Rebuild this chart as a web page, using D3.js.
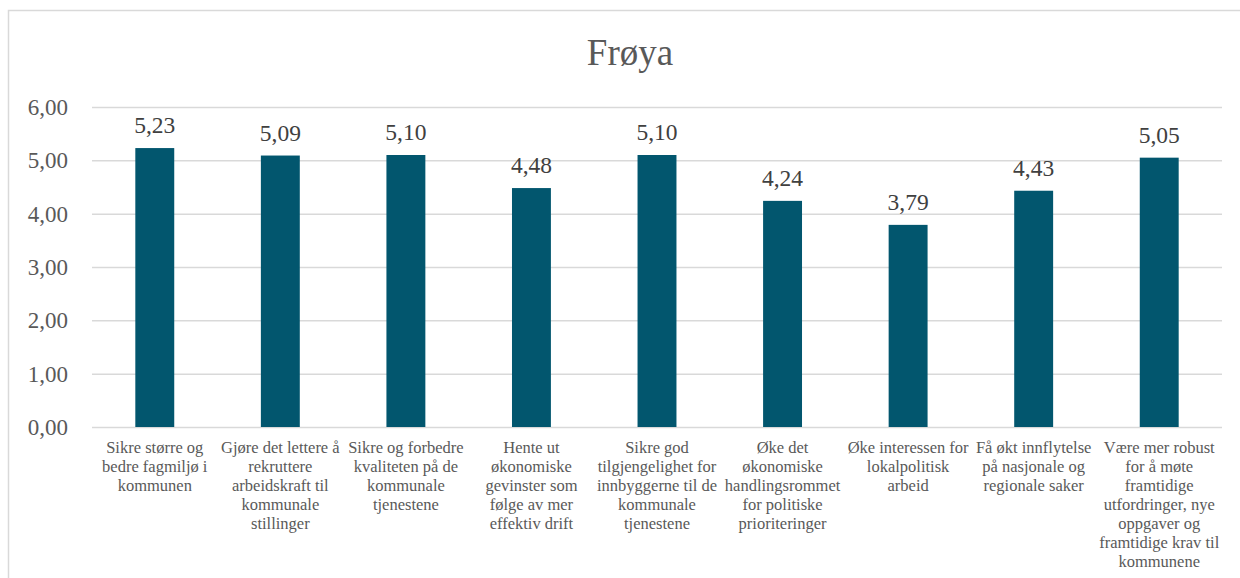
<!DOCTYPE html>
<html><head><meta charset="utf-8">
<script src="https://cdn.jsdelivr.net/npm/d3@7"></script>
<style>body{margin:0;background:#fff}svg{display:block}</style>
</head><body>
<script>
const title = "Frøya";
const categories = [
  "Sikre større og\nbedre fagmiljø i\nkommunen",
  "Gjøre det lettere å\nrekruttere\narbeidskraft til\nkommunale\nstillinger",
  "Sikre og forbedre\nkvaliteten på de\nkommunale\ntjenestene",
  "Hente ut\nøkonomiske\ngevinster som\nfølge av mer\neffektiv drift",
  "Sikre god\ntilgjengelighet for\ninnbyggerne til de\nkommunale\ntjenestene",
  "Øke det\nøkonomiske\nhandlingsrommet\nfor politiske\nprioriteringer",
  "Øke interessen for\nlokalpolitisk\narbeid",
  "Få økt innflytelse\npå nasjonale og\nregionale saker",
  "Være mer robust\nfor å møte\nframtidige\nutfordringer, nye\noppgaver og\nframtidige krav til\nkommunene"
];
const values = [5.23, 5.09, 5.10, 4.48, 5.10, 4.24, 3.79, 4.43, 5.05];
const yTicks = [0, 1, 2, 3, 4, 5, 6];

(function () {
const W = 1240, H = 578;
const font = "'Liberation Serif', serif";
const fmt = v => d3.format(".2f")(v).replace(".", ",");

const svg = d3.select("body").append("svg").attr("width", W).attr("height", H);
svg.append("rect").attr("width", W).attr("height", H).attr("fill", "#fff");
svg.append("rect").attr("x", 8.5).attr("y", 10.5).attr("width", W + 20).attr("height", H + 20)
  .attr("fill", "none").attr("stroke", "#d9d9d9").attr("stroke-width", 1.5);

const pl = 92, pr = 1222, pt = 107, pb = 427;
const x = d3.scaleBand().domain(categories).range([pl, pr]).paddingInner(0.69).paddingOuter(0.345);
const y = d3.scaleLinear().domain([0, 6]).range([pb, pt]);

svg.append("text").attr("x", 630).attr("y", 65).attr("text-anchor", "middle")
  .attr("font-family", font).attr("font-size", 37).attr("fill", "#595959").text(title);

const grid = svg.append("g").attr("transform", `translate(${pl},0)`)
  .call(d3.axisLeft(y).tickValues(yTicks).tickSize(-(pr - pl)).tickFormat(fmt).tickPadding(24));
grid.select(".domain").remove();
grid.selectAll(".tick line").attr("stroke", "#d9d9d9").attr("stroke-width", 1.5);
grid.selectAll(".tick text").attr("font-family", font).attr("font-size", 23).attr("fill", "#595959");

svg.append("g").selectAll("rect").data(values).join("rect")
  .attr("x", (d, i) => x(categories[i])).attr("width", x.bandwidth())
  .attr("y", d => y(d)).attr("height", d => y(0) - y(d)).attr("fill", "#02566e");

svg.append("g").selectAll("text").data(values).join("text")
  .attr("x", (d, i) => x(categories[i]) + x.bandwidth() / 2).attr("y", d => y(d) - 15)
  .attr("text-anchor", "middle").attr("font-family", font).attr("font-size", 23.5)
  .attr("fill", "#404040").text(fmt);

const lab = svg.append("g").selectAll("text").data(categories).join("text")
  .attr("x", d => x(d) + x.bandwidth() / 2).attr("y", 453)
  .attr("text-anchor", "middle").attr("font-family", font).attr("font-size", 16.5).attr("fill", "#595959");
lab.each(function(d) {
  const t = d3.select(this);
  d.split("\n").forEach((line, i) => {
    t.append("tspan").attr("x", x(d) + x.bandwidth() / 2).attr("dy", i === 0 ? 0 : 19).text(line);
  });
});
})();
</script>
</body></html>
